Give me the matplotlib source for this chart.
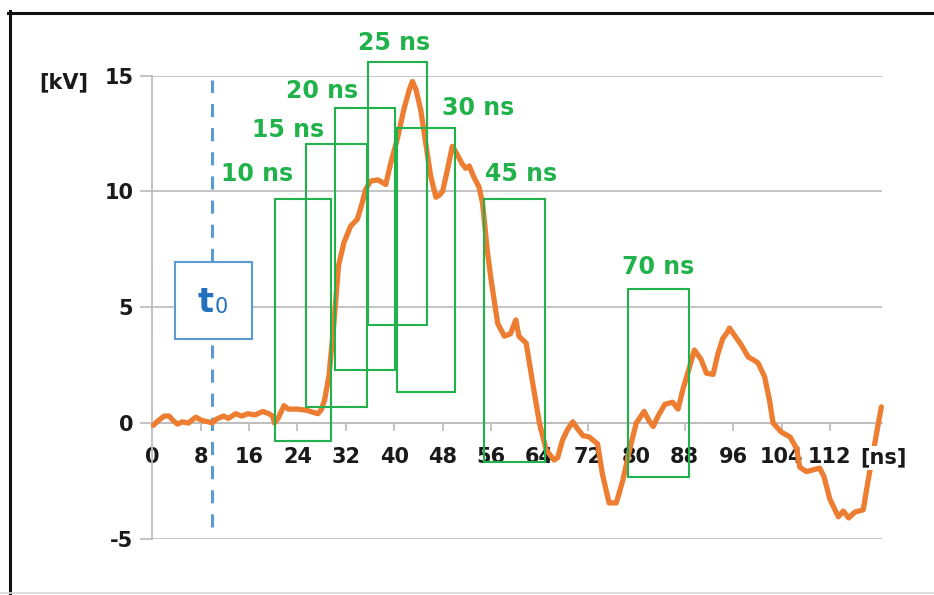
import matplotlib
matplotlib.use("Agg")
import matplotlib.pyplot as plt
from matplotlib.patches import Rectangle
from matplotlib.lines import Line2D

# Measured voltage waveform
time_ns = [0.2, 1.0, 2.0, 2.8, 3.5, 4.2, 5.0, 6.0, 7.2, 8.3, 9.3, 9.9, 10.5, 11.8,
           12.6, 13.8, 14.8, 15.8, 17.0, 18.3, 19.3, 19.9, 20.2, 20.8, 21.8, 22.5,
           24.0, 25.5, 26.8, 27.4, 28.0, 28.5, 29.2, 30.0, 30.8, 31.7, 32.8, 33.9,
           34.7, 35.3, 36.1, 37.3, 38.6, 39.4, 40.5, 41.6, 42.5, 43.0, 43.6, 44.4,
           45.2, 46.0, 46.9, 47.5, 48.0, 48.8, 49.6, 50.4, 51.2, 51.8, 52.4, 53.2,
           54.0, 54.6, 55.4, 56.0, 57.1, 58.2, 59.2, 60.1, 60.6, 61.8, 62.9, 64.0,
           65.1, 66.4, 67.0, 67.8, 68.6, 69.5, 70.3, 71.2, 72.2, 73.6, 74.4, 75.5,
           76.7, 77.8, 78.9, 80.0, 81.3, 82.1, 82.8, 83.6, 84.7, 86.0, 86.9, 87.7,
           88.5, 89.6, 90.7, 91.6, 92.7, 93.5, 94.3, 95.0, 95.4, 96.2, 97.4, 98.5,
           99.2, 100.1, 101.2, 102.0, 102.6, 104.0, 105.4, 106.5, 107.0, 108.1,
           110.3, 111.0, 112.0, 113.4, 114.2, 115.1, 116.1, 117.5, 118.3, 119.0,
           119.7, 120.5]
voltage_kv = [-0.1, 0.1, 0.3, 0.3, 0.1, -0.05, 0.05, 0.0, 0.25, 0.1, 0.05, 0.0, 0.15,
              0.3, 0.2, 0.4, 0.3, 0.4, 0.35, 0.5, 0.4, 0.3, 0.0, 0.2, 0.75, 0.6,
              0.6, 0.55, 0.45, 0.4, 0.6, 1.0, 2.0, 4.2, 6.8, 7.8, 8.5, 8.8,
              9.5, 10.1, 10.45, 10.5, 10.3, 11.2, 12.25, 13.55, 14.4, 14.75, 14.4, 13.5,
              12.1, 10.7, 9.75, 9.85, 10.0, 10.95, 11.95, 11.6, 11.2, 11.0, 11.1, 10.6,
              10.2, 9.5, 7.4, 6.2, 4.3, 3.75, 3.85, 4.45, 3.75, 3.45, 1.7, 0.0,
              -1.15, -1.6, -1.5, -0.75, -0.3, 0.05, -0.25, -0.55, -0.6, -0.9, -2.2, -3.45,
              -3.45, -2.45, -1.15, 0.0, 0.5, 0.1, -0.15, 0.3, 0.8, 0.9, 0.6, 1.45,
              2.15, 3.15, 2.75, 2.15, 2.1, 3.0, 3.65, 3.9, 4.1, 3.8, 3.35, 2.85,
              2.75, 2.6, 2.0, 1.0, 0.0, -0.4, -0.6, -1.1, -1.9, -2.1,
              -1.95, -2.3, -3.3, -4.05, -3.8, -4.1, -3.85, -3.75, -2.5, -1.5,
              -0.45, 0.7]

# Observation windows (green boxes)
window_labels = ["10 ns", "15 ns", "20 ns", "25 ns", "30 ns", "45 ns", "70 ns"]
window_start = [20.25, 25.5, 30.2, 35.7, 40.4, 54.8, 78.7]
window_end = [29.5, 35.45, 40.1, 45.5, 50.1, 64.9, 88.75]
window_top = [9.66, 12.04, 13.59, 15.58, 12.73, 9.66, 5.78]
window_bottom = [-0.78, 0.68, 2.29, 4.23, 1.35, -1.67, -2.35]
label_t = [17.4, 22.4, 28.15, 39.9, 53.8, 60.9, 83.6]
label_v = [10.76, 12.66, 14.34, 16.4, 13.6, 10.76, 6.74]

x_ticks = list(range(0, 113, 8))
y_ticks = [-5, 0, 5, 10, 15]
t0_ns = 9.9

ORANGE = "#ED7D31"
GREEN = "#22B24C"
BLUE = "#5B9BD5"
DARK_BLUE = "#2370C0"
GRID = "#BFBFBF"
TXT = "#1a1a1a"

plt.rcParams["font.family"] = ["DejaVu Sans"]

fig = plt.figure(figsize=(9.34, 5.95), dpi=100)
ax = fig.add_axes([0.1629, 0.0945, 0.9443 - 0.1629, 0.8728 - 0.0945])
ax.set_xlim(0, 120.6)
ax.set_ylim(-5, 15)
ax.set_axisbelow(True)

# axes styling
for s in ("top", "right"):
    ax.spines[s].set_visible(False)
ax.spines["left"].set_color(GRID)
ax.spines["left"].set_linewidth(1.3)
ax.spines["bottom"].set_position(("data", 0))
ax.spines["bottom"].set_color(GRID)
ax.spines["bottom"].set_linewidth(1.3)
ax.yaxis.grid(True, color=GRID, linewidth=1.3)

ax.set_xticks(x_ticks)
ax.set_xticklabels([str(v) for v in x_ticks])
ax.set_yticks(y_ticks)
ax.set_yticklabels([str(v) for v in y_ticks])
ax.tick_params(axis="x", direction="out", length=6, width=1.3, color=GRID,
               pad=11, labelsize=15, labelcolor=TXT)
ax.tick_params(axis="y", direction="out", length=8.5, width=1.3, color=GRID,
               pad=5, labelsize=15, labelcolor=TXT)
for lab in ax.get_xticklabels() + ax.get_yticklabels():
    lab.set_fontweight("bold")

# t0 marker
ax.plot([t0_ns, t0_ns], [-4.48, 14.8], color=BLUE, linewidth=2.2,
        dashes=(4.3, 3.6), zorder=2, clip_on=False)
ax.add_patch(Rectangle((3.78, 3.62), 16.46 - 3.78, 6.97 - 3.62, facecolor="white",
                       edgecolor=BLUE, linewidth=1.5, zorder=4))
ax.text(8.74, 4.78, "t", color=DARK_BLUE, fontsize=24, fontweight="bold",
        ha="center", va="baseline", zorder=5)
ax.text(11.47, 4.75, "0", color=DARK_BLUE, fontsize=15,
        ha="center", va="baseline", zorder=5)

# waveform
ax.plot(time_ns, voltage_kv, color=ORANGE, linewidth=3.8, zorder=3,
        solid_joinstyle="round", solid_capstyle="round", clip_on=False)

# observation windows
for lab, t1, t2, top, bot, lt, lv in zip(window_labels, window_start, window_end,
                                          window_top, window_bottom, label_t, label_v):
    ax.add_patch(Rectangle((t1, bot), t2 - t1, top - bot, fill=False,
                           edgecolor=GREEN, linewidth=1.5, zorder=3.5, clip_on=False))
    ax.text(lt, lv, lab, color=GREEN, fontsize=17, fontweight="bold",
            ha="center", va="center", zorder=5, clip_on=False)

# axis unit labels
ax.text(120.8, -1.5, "[ns]", color=TXT, fontsize=15, fontweight="bold",
        ha="center", va="center", zorder=6, clip_on=False,
        bbox=dict(facecolor="white", edgecolor="none", pad=1.5))
fig.text(64 / 934, 1 - 82 / 595, "[kV]", color=TXT, fontsize=15, fontweight="bold",
         ha="center", va="center")

# outer frame
fig.add_artist(Line2D([9.5 / 934, 9.5 / 934], [0, 1 - 11 / 595], color="#111111",
                      linewidth=2.2, transform=fig.transFigure))
fig.add_artist(Line2D([8 / 934, 1], [1 - 12.5 / 595, 1 - 12.5 / 595], color="#111111",
                      linewidth=2.2, transform=fig.transFigure))
fig.add_artist(Line2D([0, 1], [2.5 / 595, 2.5 / 595], color="#D9D9D9",
                      linewidth=1.2, transform=fig.transFigure))

fig.savefig("out.png", dpi=100)
